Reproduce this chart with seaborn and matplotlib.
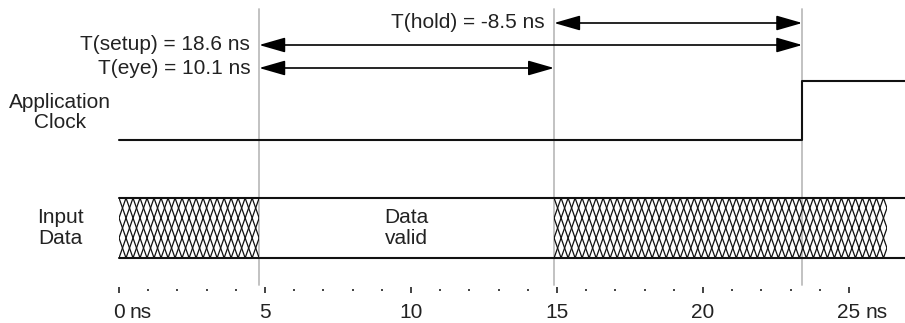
import numpy as np
import matplotlib
matplotlib.use("Agg")
import matplotlib.pyplot as plt
from matplotlib.patches import FancyArrowPatch, Rectangle, ArrowStyle
import seaborn as sns

# ---- timing values (ns) ----
edge_times = [4.8, 14.9, 23.4]            # data valid start / data valid end / clock edge
clock_time = [0.0, 23.4, 23.4, 27.5]
clock_level = [0, 0, 1, 1]
invalid_windows = [(0.0, 4.8), (14.9, 26.3)]
data_span = (0.0, 27.5)
measure_labels = ["T(hold) = -8.5 ns", "T(setup) = 18.6 ns", "T(eye) = 10.1 ns"]
measure_start = [14.9, 4.8, 4.8]
measure_end = [23.4, 23.4, 14.9]
major_ticks = [0, 5, 10, 15, 20, 25]
major_labels = ["0", "5", "10", "15", "20", "25"]
minor_ticks = [t for t in range(1, 25) if t % 5]

# ---- layout (vertical positions in pixel rows, top = 0) ----
W, H = 905, 323
PX_PER_NS = 29.2
X0_PX = 119
measure_rows = [23, 45, 68]
clock_lo, clock_hi = 140, 81
data_top, data_bot = 198, 258
axis_row = 290
guide_top, guide_bot = 9, 285

sns.set_style("white")
plt.rcParams["font.family"] = ["Liberation Sans", "DejaVu Sans"]
FS = 15
INK = "#222222"

fig = plt.figure(figsize=(W / 100, H / 100), dpi=100)
ax = fig.add_axes([0, 0, 1, 1])
ax.set_xlim(-X0_PX / PX_PER_NS, (W - X0_PX) / PX_PER_NS)
ax.set_ylim(H, 0)

# gray guide lines at the edges
for t in edge_times:
    ax.plot([t, t], [guide_top, guide_bot], color="#bdbdbd", lw=1.3, zorder=1)

# application clock
clock_y = [clock_lo - lv * (clock_lo - clock_hi) for lv in clock_level]
sns.lineplot(x=clock_time, y=clock_y, sort=False, estimator=None,
             color="#111111", lw=1.5, ax=ax, zorder=3)

# input data rails
for y in (data_top, data_bot):
    ax.plot(data_span, [y, y], color="#111111", lw=1.5, zorder=3)


# crossing transitions drawn inside invalid windows
def draw_noise(t0, t1, rise=0.72, n=6):
    clip = Rectangle((t0, data_top), t1 - t0, data_bot - data_top,
                     transform=ax.transData)
    pitch = 2 * rise / n
    for k in range(n):
        xs = np.arange(t0 - 2 * rise + k * pitch, t1 + 2 * rise, rise)
        ys = np.where(np.arange(len(xs)) % 2 == 0, data_top, data_bot)
        ln, = ax.plot(xs, ys, color="#111111", lw=0.9, zorder=2)
        ln.set_clip_path(clip)


for t0, t1 in invalid_windows:
    draw_noise(t0, t1)

# measurement arrows
style = ArrowStyle("<|-|>", head_length=16, head_width=4.6)
for lab, a, b, y in zip(measure_labels, measure_start, measure_end, measure_rows):
    arr = FancyArrowPatch((a, y), (b, y), arrowstyle=style, mutation_scale=1,
                          color="black", lw=1.2, shrinkA=0, shrinkB=0, zorder=4)
    ax.add_patch(arr)
    ax.annotate(lab, (a, y), xytext=(-6.5, 0), textcoords="offset points",
                ha="right", va="center", fontsize=FS, color=INK)

# row labels
ax.text(-2.02, (clock_lo + clock_hi) / 2 + 2, "Application\nClock",
        ha="center", va="center", fontsize=FS, linespacing=1.08, color=INK)
ax.text(-2.02, (data_top + data_bot) / 2, "Input\nData",
        ha="center", va="center", fontsize=FS, linespacing=1.08, color=INK)
ax.text((edge_times[0] + edge_times[1]) / 2, (data_top + data_bot) / 2,
        "Data\nvalid", ha="center", va="center", fontsize=FS,
        linespacing=1.08, color=INK)

# time axis
for side in ("top", "left", "right"):
    ax.spines[side].set_visible(False)
ax.spines["bottom"].set_position(("data", axis_row))
ax.spines["bottom"].set_color("none")
ax.set_yticks([])
ax.set_xticks(major_ticks)
ax.set_xticklabels(major_labels)
ax.set_xticks(minor_ticks, minor=True)
ax.tick_params(axis="x", which="major", direction="inout", length=5,
               width=1.2, color=INK, labelsize=FS, pad=6.5,
               labelcolor=INK, bottom=True)
ax.tick_params(axis="x", which="minor", direction="inout", length=2,
               width=1.2, color=INK, bottom=True)

# unit suffix after the first and last tick labels
fig.canvas.draw()
labels = ax.get_xticklabels()
for lbl in (labels[0], labels[-1]):
    ax.annotate("ns", xy=(1, 0), xycoords=lbl, xytext=(3.5, 0),
                textcoords="offset points", ha="left", va="bottom",
                fontsize=FS, color=INK)

ax.grid(False)
fig.savefig("out.png", dpi=100)
